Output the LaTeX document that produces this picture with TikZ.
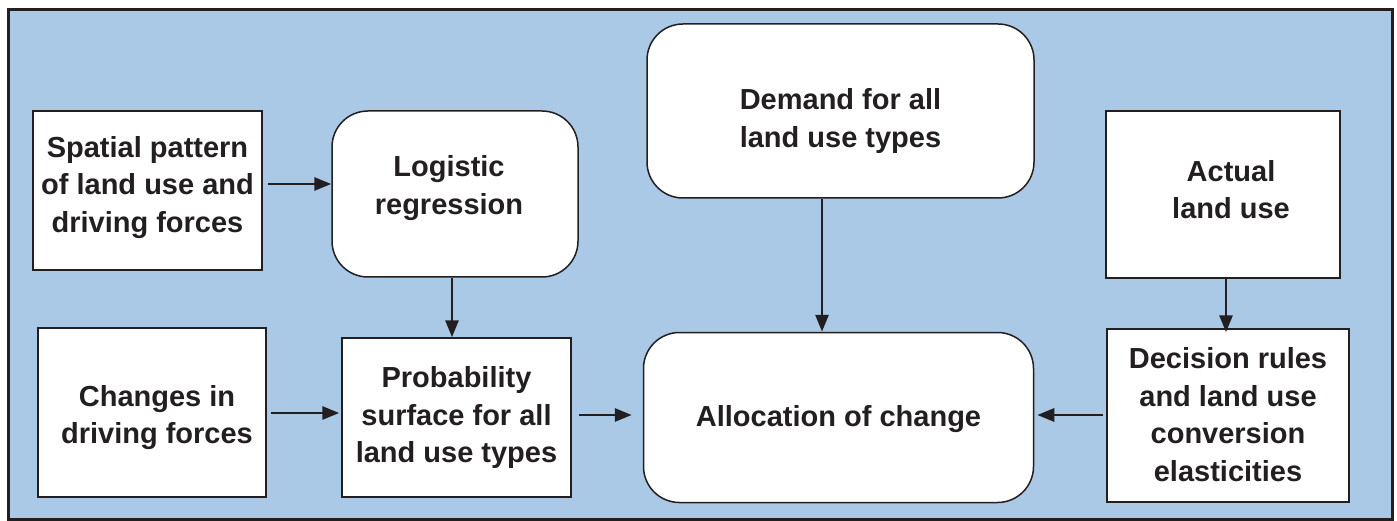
\documentclass[tikz,border=0pt]{standalone}
\usepackage{fontspec}
\setmainfont{Liberation Sans}
\usetikzlibrary{arrows.meta}
\definecolor{panel}{HTML}{A9C9E6}
\definecolor{ink}{HTML}{231F20}
\tikzset{
  boxtext/.style={font=\bfseries\fontsize{29}{37.5}\selectfont, text=ink, align=center, inner sep=0pt},
  sqbox/.style={draw=ink, line width=1.5pt, fill=white, inner sep=0pt},
  rdbox/.style={sqbox, rounded corners=36pt},
  flow/.style={draw=ink, line width=2.9pt, -{Triangle[length=17pt,width=13pt]}},
}
\begin{document}
\begin{tikzpicture}[x=1pt,y=-1pt]
  \useasboundingbox (0,0) rectangle (1397,521);
  % background panel
  \draw[ink, line width=3pt, fill=panel] (8,10) rectangle (1392,519);

  % boxes: centre and size
  \node[sqbox, minimum width=229pt, minimum height=159pt] (spatial) at (147.5,190.5) {};
  \node[rdbox, minimum width=246pt, minimum height=166pt] (logit) at (455,194) {};
  \node[rdbox, minimum width=387pt, minimum height=174pt] (demand) at (840.5,111) {};
  \node[sqbox, minimum width=234pt, minimum height=167pt] (actual) at (1223,194.5) {};
  \node[sqbox, minimum width=228pt, minimum height=169pt] (changes) at (152,412.5) {};
  \node[sqbox, minimum width=229pt, minimum height=159pt] (prob) at (456.5,417.5) {};
  \node[rdbox, minimum width=390pt, minimum height=170pt] (alloc) at (838.5,417.5) {};
  \node[sqbox, minimum width=242pt, minimum height=173pt] (decision) at (1228,415.5) {};

  % box texts (yshift is upwards on the page)
  \node[boxtext] (spatial-t) at ([yshift=3pt]spatial.center) {Spatial pattern\\of land use and\\driving forces};
  \node[boxtext] (logit-t) at ([xshift=-6pt,yshift=6pt]logit.center) {Logistic\\regression};
  \node[boxtext] (demand-t) at ([yshift=-10pt]demand.center) {Demand for all\\land use types};
  \node[boxtext] (actual-t) at ([xshift=8pt,yshift=5pt]actual.center) {Actual\\land use};
  \node[boxtext] (changes-t) at ([xshift=5pt,yshift=-5pt]changes.center) {Changes in\\driving forces};
  \node[boxtext] (prob-t) at (prob.center) {Probability\\surface for all\\land use types};
  \node[boxtext] (alloc-t) at ([yshift=-2pt]alloc.center) {Allocation of change};
  \node[boxtext] (decision-t) at ([yshift=1pt]decision.center) {Decision rules\\and land use\\conversion\\elasticities};

  % connectors
  \draw[flow] ([xshift=5pt]spatial.east |- 0,184) -- (logit.west |- 0,184);
  \draw[flow] (logit.south -| 452,0) -- (prob.north -| 452,0);
  \draw[flow] ([xshift=4pt]changes.east |- 0,413) -- ([xshift=-2pt]prob.west |- 0,413);
  \draw[flow] ([xshift=7pt]prob.east |- 0,415) -- ([xshift=-11pt]alloc.west |- 0,415);
  \draw[flow] (demand.south -| 822,0) -- (alloc.north -| 822,0);
  \draw[flow] (actual.south -| 1226,0) -- ([yshift=-4pt]decision.north -| 1226,0);
  \draw[flow] ([xshift=-3pt]decision.west |- 0,415) -- ([xshift=3pt]alloc.east |- 0,415);
\end{tikzpicture}
\end{document}
